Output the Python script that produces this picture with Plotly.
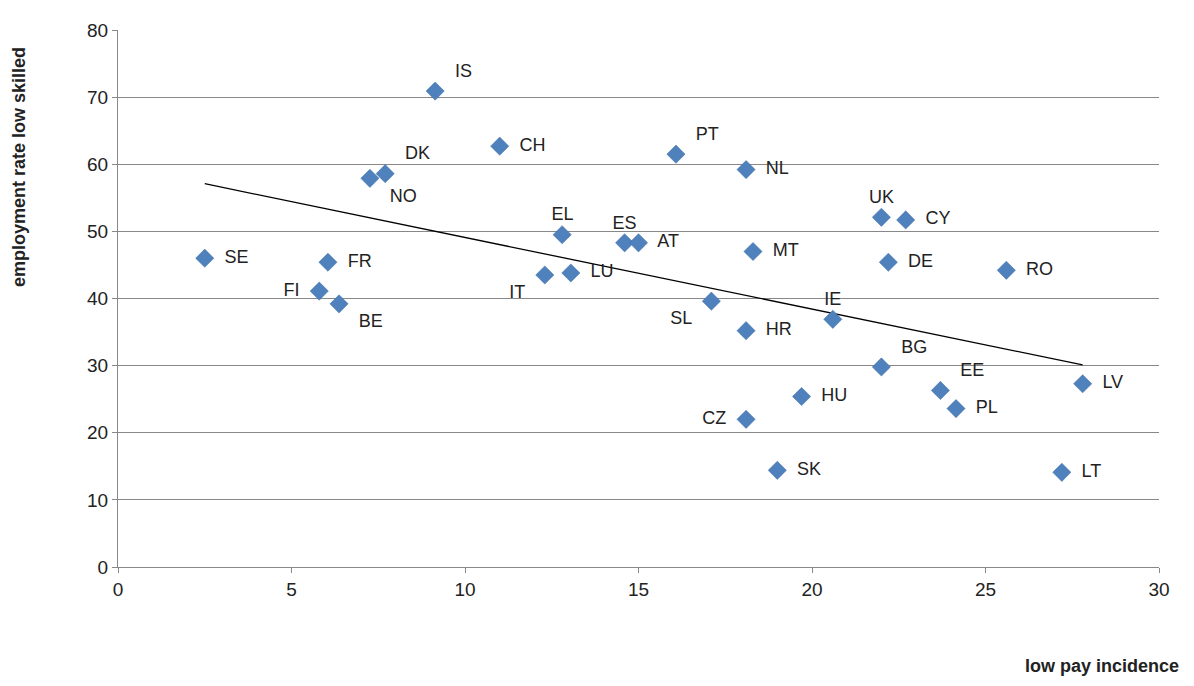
import plotly.graph_objects as go

countries = ["IS", "CH", "PT", "NL", "DK", "NO", "UK", "CY", "EL", "ES", "AT", "MT", "SE", "FR", "DE",
             "RO", "IT", "LU", "FI", "BE", "SL", "IE", "HR", "BG", "LV", "EE", "HU", "PL", "CZ", "SK", "LT"]
low_pay = [9.14, 11.0, 16.08, 18.1, 7.7, 7.26, 22.0, 22.7, 12.8, 14.6, 15.0, 18.3, 2.5, 6.05, 22.2,
           25.6, 12.3, 13.05, 5.8, 6.37, 17.1, 20.6, 18.1, 22.0, 27.8, 23.7, 19.7, 24.15, 18.1, 19.0, 27.2]
emp_low = [70.9, 62.7, 61.5, 59.2, 58.6, 57.9, 52.1, 51.7, 49.5, 48.3, 48.3, 47.0, 46.0, 45.4, 45.4,
           44.2, 43.5, 43.8, 41.1, 39.2, 39.6, 36.9, 35.2, 29.8, 27.3, 26.3, 25.4, 23.6, 22.0, 14.4, 14.1]
positions = ["top right", "middle right", "top right", "middle right", "top right", "bottom right",
             "top center", "middle right", "top center", "top center", "middle right", "middle right",
             "middle right", "middle right", "middle right", "middle right", "bottom left", "middle right",
             "middle left", "bottom right", "bottom left", "top center", "middle right", "top right",
             "middle right", "top right", "middle right", "middle right", "middle left", "middle right",
             "middle right"]

trend_x = [2.5, 27.8]
trend_y = [57.1, 30.1]

fig = go.Figure()
fig.add_trace(go.Scatter(x=trend_x, y=trend_y, mode="lines",
                         line=dict(color="black", width=1.3), hoverinfo="skip"))
fig.add_trace(go.Scatter(x=low_pay, y=emp_low, mode="markers+text", text=["  " + c + "  " for c in countries],
                         textposition=positions, textfont=dict(size=18, color="#222"),
                         marker=dict(symbol="diamond", size=14, color="#4F81BD",
                                     line=dict(color="#3A6AA5", width=0.5))))

fig.update_layout(
    width=1194, height=686, showlegend=False,
    plot_bgcolor="white", paper_bgcolor="white",
    margin=dict(l=110, r=43, t=14, b=127),
    font=dict(family="Liberation Sans, Arial, sans-serif", size=18, color="#222"),
    xaxis=dict(range=[0, 30], dtick=5, showgrid=False, showline=True, linecolor="#888",
               ticks="outside", ticklen=5, tickcolor="#888", zeroline=False,
               tickfont=dict(size=19)),
    yaxis=dict(range=[0, 80], dtick=10, showgrid=True, gridcolor="#888", gridwidth=1,
               showline=True, linecolor="#888", ticks="outside", ticklen=5, tickcolor="#888",
               zeroline=False, tickfont=dict(size=19)),
    annotations=[
        dict(text="<b>low pay incidence</b>", x=1, y=-0.185, xref="paper", yref="paper",
             xanchor="right", yanchor="middle", showarrow=False, font=dict(size=18),
             xshift=22),
        dict(text="<b>employment rate low skilled</b>", x=-0.095, y=0.745, xref="paper", yref="paper",
             xanchor="center", yanchor="middle",
             textangle=-90, showarrow=False, font=dict(size=18)),
    ],
)

fig.write_html("out.html")
